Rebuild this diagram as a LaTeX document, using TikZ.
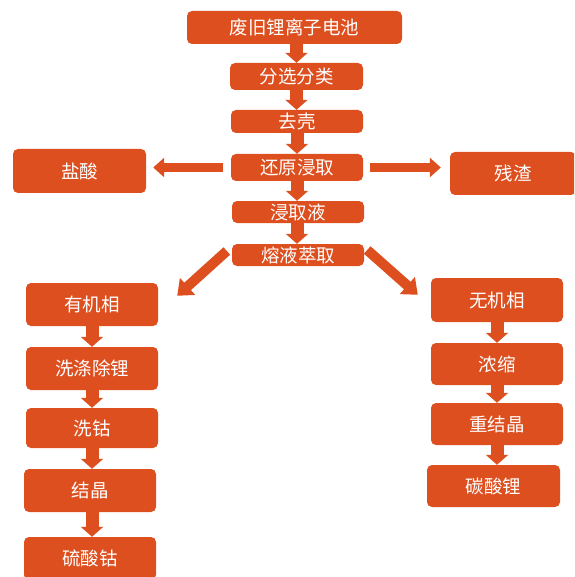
\documentclass[tikz,border=0pt]{standalone}
\usepackage{fontspec}
\newfontfamily\cjk{Noto Sans CJK SC}
\usetikzlibrary{arrows.meta,calc}
\definecolor{flowred}{HTML}{DD4F1F}
\tikzset{
  box/.style={fill=flowred, rounded corners=5pt, text=white, inner sep=0pt,
    font=\cjk\fontsize{18.5}{19}\selectfont, anchor=center},
  down/.style={draw=flowred, line width=13pt, -{Triangle[length=10pt,width=22pt]}},
  side/.style={draw=flowred, line width=9pt, -{Triangle[length=11pt,width=19pt]}},
  slant/.style={draw=flowred, line width=10pt, -{Triangle[length=14pt,width=22pt]}}
}
\begin{document}
\begin{tikzpicture}[x=1pt,y=-1pt]
\useasboundingbox (0,0) rectangle (574,577);
\begin{scope}
\clip (0,0) rectangle (574,577);
% main line
\node[box, minimum width=215pt, minimum height=33pt] (battery) at (294.5,27.5) {废旧锂离子电池};
\node[box, minimum width=133pt, minimum height=27pt] (sort) at (296.5,76.5) {分选分类};
\node[box, minimum width=132pt, minimum height=23pt] (shell) at (297,121.5) {去壳};
\node[box, minimum width=132pt, minimum height=27pt] (leach) at (297,167.5) {还原浸取};
\node[box, minimum width=132pt, minimum height=22pt] (liquor) at (298,212) {浸取液};
\node[box, minimum width=132pt, minimum height=22pt] (extract) at (298,255) {熔液萃取};
% side products
\node[box, minimum width=133pt, minimum height=44pt] (hcl) at (79.5,171) {盐酸};
\node[box, minimum width=126pt, minimum height=43pt] (residue) at (513,173.5) {残渣};
% organic branch
\node[box, minimum width=132pt, minimum height=43pt] (org) at (92,304.5) {有机相};
\node[box, minimum width=132pt, minimum height=43pt] (wash) at (92,368.5) {洗涤除锂};
\node[box, minimum width=132pt, minimum height=40pt] (cowash) at (92,428) {洗钴};
\node[box, minimum width=132pt, minimum height=43pt] (cryst) at (90,490.5) {结晶};
\node[box, minimum width=132pt, minimum height=43pt] (cosulf) at (90,558.5) {硫酸钴};
% inorganic branch
\node[box, minimum width=132pt, minimum height=44pt] (inorg) at (497,300) {无机相};
\node[box, minimum width=132pt, minimum height=42pt] (conc) at (497,364) {浓缩};
\node[box, minimum width=132pt, minimum height=42pt] (recryst) at (497,424) {重结晶};
\node[box, minimum width=133pt, minimum height=42pt] (licarb) at (493.5,486) {碳酸锂};
% vertical arrows, main line
\draw[down] (sort.north |- battery.south) -- (sort.north);
\draw[down] (sort.south) -- (sort.south |- shell.north);
\draw[down] (shell.south) -- (leach.north);
\draw[down] (leach.south) -- (leach.south |- liquor.north);
\draw[down] (leach.south |- liquor.south) -- (leach.south |- extract.north);
% horizontal arrows
\draw[side] ($(leach.west)+(-8,0)$) -- ($(hcl.east |- leach.west)+(7,0)$);
\draw[side] ($(leach.east)+(7,0)$) -- ($(residue.west |- leach.east)+(-9,0)$);
% diagonal arrows
\draw[slant] ($(extract.west)+(-5,-4)$) -- ($(org.north east)+(19,13)$);
\draw[slant] ($(extract.east)+(3,-5)$) -- ($(inorg.north west)+(-13,17)$);
% vertical arrows, organic branch
\draw[down] (org.south) -- (org.south |- wash.north);
\draw[down] (wash.south) -- (wash.south |- cowash.north);
\draw[down] (cowash.south) -- (cowash.south |- cryst.north);
\draw[down] (cowash.south |- cryst.south) -- (cowash.south |- cosulf.north);
% vertical arrows, inorganic branch
\draw[down] (inorg.south) -- (inorg.south |- conc.north);
\draw[down] (conc.south) -- (conc.south |- recryst.north);
\draw[down] (recryst.south) -- (recryst.south |- licarb.north);
\end{scope}
\end{tikzpicture}
\end{document}
